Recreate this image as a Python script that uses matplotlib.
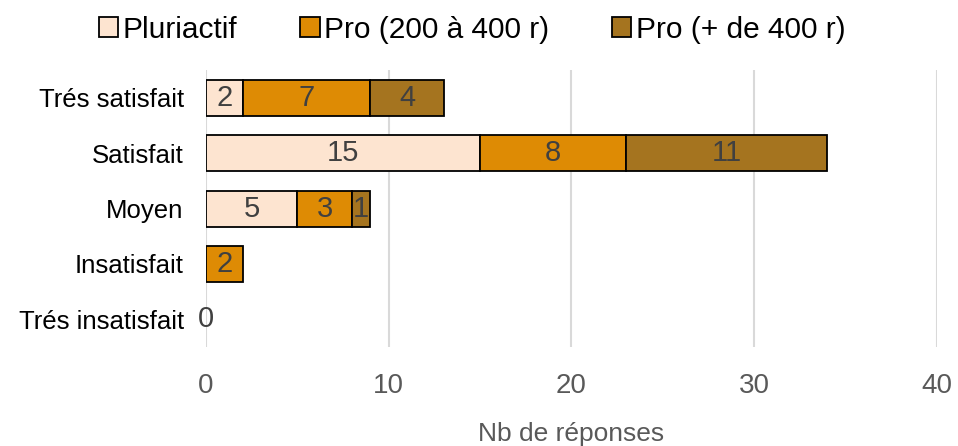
import matplotlib
matplotlib.use("Agg")
import matplotlib.pyplot as plt

categories = ["Trés satisfait", "Satisfait", "Moyen", "Insatisfait", "Trés insatisfait"]
series_names = ["Pluriactif", "Pro (200 à 400 r)", "Pro (+ de 400 r)"]
pluriactif = [2, 15, 5, 0, 0]
pro_200_400 = [7, 8, 3, 2, 0]
pro_400_plus = [4, 11, 1, 0, 0]
x_ticks = [0, 10, 20, 30, 40]
colors = ["#FDE4D0", "#DE8B04", "#A5741F"]

plt.rcParams["font.family"] = ["Liberation Sans", "DejaVu Sans"]

fig = plt.figure(figsize=(9.58, 4.46), dpi=100)
ax = fig.add_axes([0.215, 0.222, 0.763, 0.621])

ypos = list(range(len(categories)))
left = [0] * len(categories)
series = [pluriactif, pro_200_400, pro_400_plus]
handles = []
for vals, name, col in zip(series, series_names, colors):
    idx = [i for i, v in enumerate(vals) if v > 0]
    bars = ax.barh([ypos[i] for i in idx], [vals[i] for i in idx],
                   left=[left[i] for i in idx], height=0.65, color=col,
                   edgecolor="black", linewidth=1.3, label=name, zorder=3)
    handles.append(bars)
    for i in idx:
        ax.text(left[i] + vals[i] / 2, ypos[i], str(vals[i]), ha="center",
                va="center", fontsize=21, color="#404040", zorder=4)
    left = [a + b for a, b in zip(left, vals)]

for y, tot in zip(ypos, left):
    if tot == 0:
        ax.text(0, y, "0", ha="center", va="center", fontsize=21,
                color="#404040", zorder=4)

ax.set_ylim(len(categories) - 0.5, -0.5)
ax.set_xlim(0, 40)
ax.set_yticks(ypos)
ax.set_yticklabels(categories, fontsize=18.5, color="black")
ax.set_xticks(x_ticks)
ax.set_xticklabels([str(t) for t in x_ticks], fontsize=20, color="#595959")
ax.tick_params(axis="both", length=0)
ax.tick_params(axis="y", pad=16)
ax.tick_params(axis="x", pad=19)
for s in ax.spines.values():
    s.set_visible(False)
ax.grid(axis="x", color="#D9D9D9", linewidth=1.5, zorder=0)
ax.set_xlabel("Nb de réponses", fontsize=19, color="#595959", labelpad=16)

fig.legend(handles=handles, labels=series_names, loc="upper center",
           bbox_to_anchor=(0.493, 1.025), ncol=3, frameon=False,
           prop={"size": 21.5},
           handlelength=0.65, handleheight=0.65, handletextpad=0.15,
           columnspacing=2.1)

fig.savefig("out.png", dpi=100)
